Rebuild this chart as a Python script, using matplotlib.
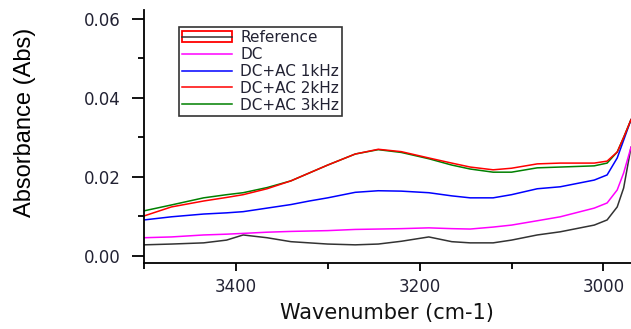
import matplotlib
matplotlib.use("Agg")
import matplotlib.pyplot as plt
from matplotlib.patches import Rectangle
from matplotlib.lines import Line2D
from matplotlib.ticker import MultipleLocator

plt.rcParams['font.family'] = ['DejaVu Sans']

# wavenumber grid (cm-1)
wn = [3500, 3470, 3435, 3410, 3392, 3366, 3340, 3320, 3300, 3270, 3245, 3220,
      3190, 3165, 3145, 3120, 3100, 3072, 3047, 3010, 2996, 2985, 2978, 2970]

reference = [0.0028, 0.0030, 0.0033, 0.0040, 0.0053, 0.0046, 0.0036, 0.0033,
             0.0030, 0.0028, 0.0030, 0.0037, 0.0048, 0.0036, 0.0033, 0.0033,
             0.0040, 0.0053, 0.0061, 0.0078, 0.0091, 0.0124, 0.0172, 0.0275]
dc = [0.0046, 0.0048, 0.0053, 0.0055, 0.0057, 0.0060, 0.0062, 0.0063,
      0.0064, 0.0067, 0.0068, 0.0069, 0.0071, 0.0069, 0.0068, 0.0073,
      0.0078, 0.0089, 0.0099, 0.0121, 0.0134, 0.0167, 0.0210, 0.0275]
ac_1k = [0.0091, 0.0099, 0.0106, 0.0109, 0.0112, 0.0121, 0.0130, 0.0139,
         0.0147, 0.0161, 0.0165, 0.0164, 0.0160, 0.0152, 0.0147, 0.0147,
         0.0155, 0.0170, 0.0175, 0.0192, 0.0205, 0.0248, 0.0293, 0.0345]
ac_2k = [0.0101, 0.0124, 0.0139, 0.0148, 0.0155, 0.0170, 0.0190, 0.0210,
         0.0230, 0.0258, 0.0270, 0.0264, 0.0248, 0.0235, 0.0225, 0.0218,
         0.0222, 0.0233, 0.0235, 0.0235, 0.0240, 0.0263, 0.0300, 0.0345]
ac_3k = [0.0114, 0.0129, 0.0147, 0.0155, 0.0160, 0.0173, 0.0190, 0.0210,
         0.0230, 0.0258, 0.0269, 0.0262, 0.0246, 0.0230, 0.0220, 0.0212,
         0.0212, 0.0223, 0.0225, 0.0228, 0.0235, 0.0263, 0.0300, 0.0345]

fig = plt.figure(figsize=(6.31, 3.29), dpi=100)
ax = fig.add_axes([0.228, 0.2006, 0.772, 0.7694])

ax.plot(wn, reference, color="#333333", lw=1.1)
ax.plot(wn, dc, color="#ff00ff", lw=1.1)
ax.plot(wn, ac_1k, color="#0000ff", lw=1.1)
ax.plot(wn, ac_3k, color="#008000", lw=1.1)
ax.plot(wn, ac_2k, color="#ff0000", lw=1.1)

ax.set_xlim(3500, 2970)
ax.set_ylim(-0.0018, 0.0623)
ax.xaxis.set_major_locator(MultipleLocator(200))
ax.xaxis.set_minor_locator(MultipleLocator(100))
ax.yaxis.set_major_locator(MultipleLocator(0.02))
ax.yaxis.set_minor_locator(MultipleLocator(0.01))
ax.yaxis.set_major_formatter(plt.FuncFormatter(lambda v, p: "%.2f" % v))

for s in ["top", "right"]:
    ax.spines[s].set_visible(False)
for s in ["left", "bottom"]:
    ax.spines[s].set_linewidth(1.3)
ax.tick_params(which="both", direction="out", width=1.3, labelsize=12,
               labelcolor="#222233")
ax.tick_params(axis="y", which="major", length=9, pad=8)
ax.tick_params(axis="y", which="minor", length=4.5)
ax.tick_params(axis="x", which="major", length=6, pad=5)
ax.tick_params(axis="x", which="minor", length=4)

ax.set_xlabel("Wavenumber (cm-1)", fontsize=15, color="#111111")
ax.xaxis.label.set_va("center")
ax.xaxis.set_label_coords(0.5, -0.198)
ax.set_ylabel("Absorbance (Abs)", fontsize=17, family=["Liberation Sans", "DejaVu Sans"])
ax.yaxis.label.set_va("center")
ax.yaxis.set_label_coords(-0.244, 0.557)

# legend, reference handle has red box round the black line
ref_handle = (Rectangle((0, 0), 1, 1, facecolor="none", edgecolor="red", lw=1.3),
              Line2D([], [], color="#333333", lw=1.1))
handles = [ref_handle,
           Line2D([], [], color="#ff00ff", lw=1.1),
           Line2D([], [], color="#0000ff", lw=1.1),
           Line2D([], [], color="#ff0000", lw=1.1),
           Line2D([], [], color="#008000", lw=1.1)]
labels = ["Reference", "DC", "DC+AC 1kHz", "DC+AC 2kHz", "DC+AC 3kHz"]
leg = ax.legend(handles, labels, loc="upper left", bbox_to_anchor=(0.072, 0.933),
                fontsize=11, frameon=True, fancybox=False, handlelength=3.3,
                handletextpad=0.5, labelspacing=0.13, borderpad=0.2,
                borderaxespad=0)
leg.get_frame().set_edgecolor("black")
leg.get_frame().set_linewidth(1.2)
for t in leg.get_texts():
    t.set_color("#222233")

fig.savefig("out.png", dpi=100)
